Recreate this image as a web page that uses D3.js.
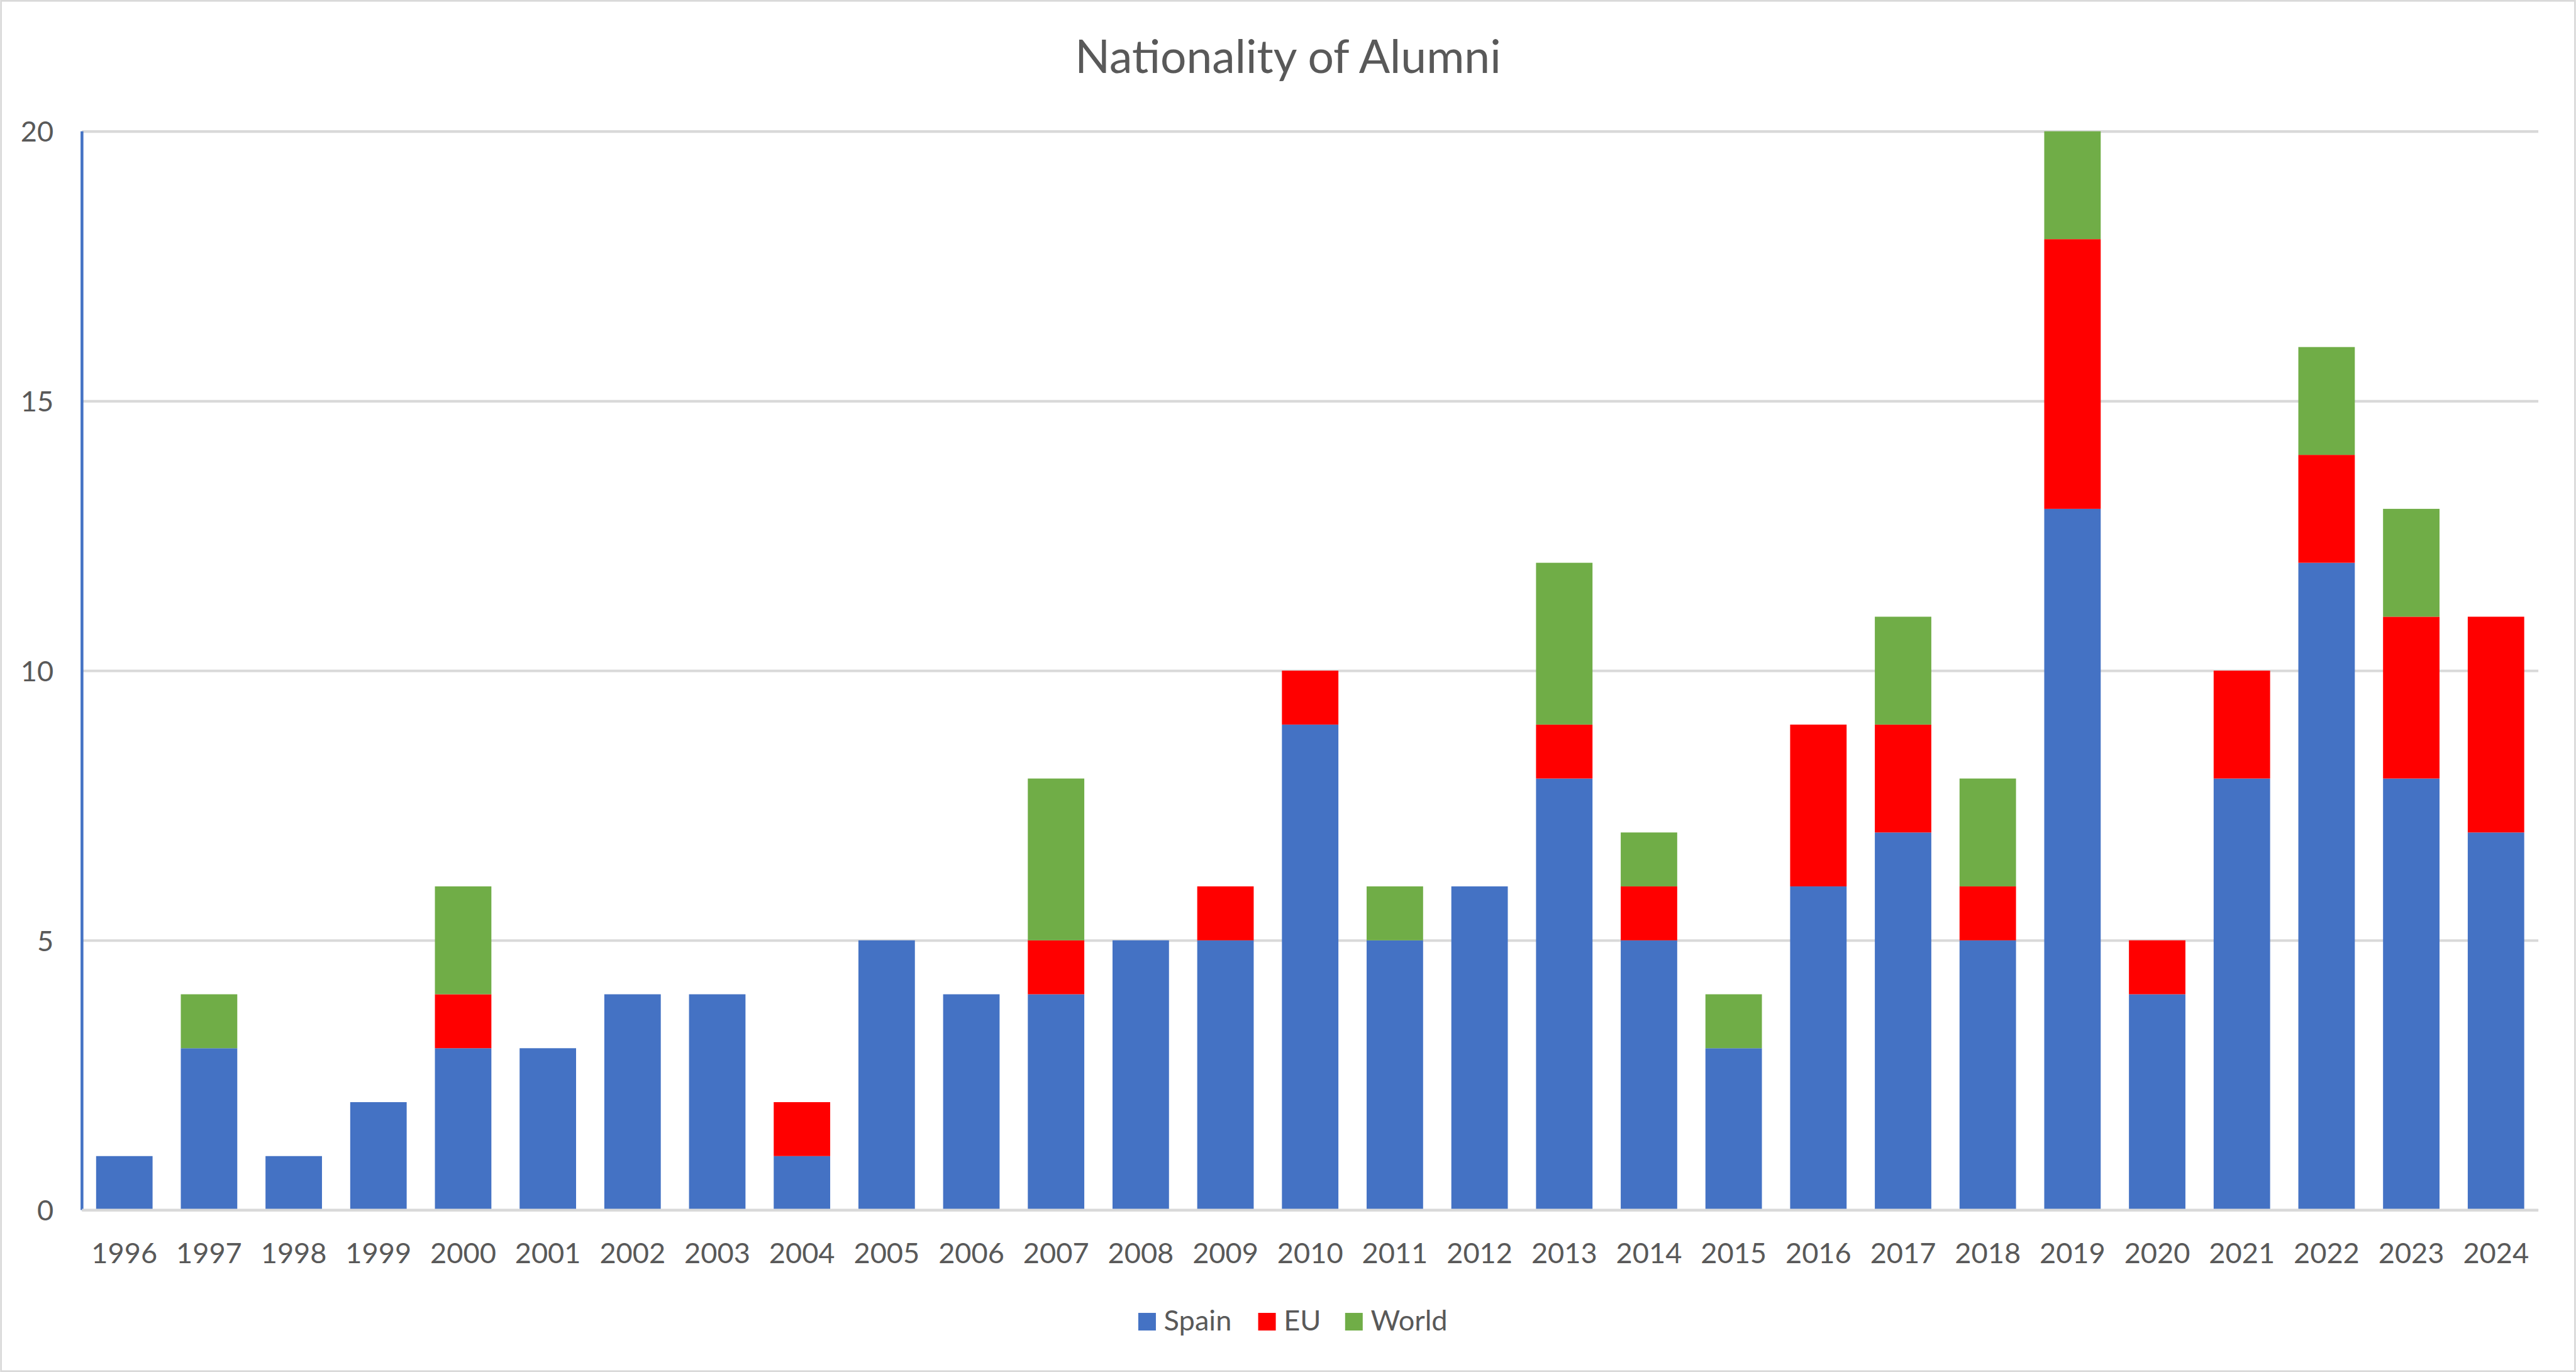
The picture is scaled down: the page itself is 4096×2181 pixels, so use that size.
<!DOCTYPE html>
<html><head><meta charset="utf-8">
<script src="https://cdn.jsdelivr.net/npm/d3@7"></script>
<style>html,body{margin:0;padding:0;background:#fff;overflow:hidden}</style>
</head><body>
<svg id="chart" width="4096" height="2181" viewBox="0 0 4533 2414"></svg>
<script>
const years = ["1996","1997","1998","1999","2000","2001","2002","2003","2004","2005","2006","2007","2008","2009","2010","2011","2012","2013","2014","2015","2016","2017","2018","2019","2020","2021","2022","2023","2024"];
const spain = [1,3,1,2,3,3,4,4,1,5,4,4,5,5,9,5,6,8,5,3,6,7,5,13,4,8,12,8,7];
const eu    = [0,0,0,0,1,0,0,0,1,0,0,1,0,1,1,0,0,1,1,0,3,2,1,5,1,2,2,3,4];
const world = [0,1,0,0,2,0,0,0,0,0,0,3,0,0,0,1,0,3,1,1,0,2,2,2,0,0,2,2,0];
const seriesNames = ["Spain","EU","World"];
const seriesColors = ["#4472C4","#FF0000","#70AD47"];
const yTicks = [0,5,10,15,20];
const title = "Nationality of Alumni";

const FONT = "Lato, 'Open Sans', sans-serif";
const TXT = "#595959";
const svg = d3.select("#chart");
const W = 4533, H = 2414;
svg.append("rect").attr("x",1.5).attr("y",1.5).attr("width",W-3).attr("height",H-3)
   .attr("fill","#fff").attr("stroke","#D9D9D9").attr("stroke-width",3);

const pLeft = 144, pRight = 4467, pTop = 231, pBottom = 2129;
const x = d3.scaleBand().domain(years).range([pLeft,pRight]).paddingInner(1/3).paddingOuter(1/6);
const y = d3.scaleLinear().domain([0,20]).range([pBottom,pTop]);

// gridlines
const yAxis = d3.axisLeft(y).tickValues(yTicks).tickSize(-(pRight-pLeft)).tickPadding(50);
const gy = svg.append("g").attr("transform",`translate(${pLeft},0)`).call(yAxis);
gy.select(".domain").remove();
gy.selectAll(".tick line").attr("stroke","#D9D9D9").attr("stroke-width",4.5);
gy.selectAll(".tick text").attr("fill",TXT).attr("font-family",FONT).attr("font-size",50).attr("dy","0.36em");

const rows = years.map((yr,i)=>({year:yr, Spain:spain[i], EU:eu[i], World:world[i]}));
const stack = d3.stack().keys(seriesNames)(rows);
svg.append("g").selectAll("g").data(stack).join("g")
  .attr("fill",(d,i)=>seriesColors[i])
  .selectAll("rect").data(d=>d.filter(p=>p[1]>p[0])).join("rect")
  .attr("x",d=>x(d.data.year)).attr("width",x.bandwidth())
  .attr("y",d=>y(d[1])).attr("height",d=>y(d[0])-y(d[1]));

// y axis line (blue)
svg.append("line").attr("x1",pLeft).attr("x2",pLeft).attr("y1",y(20)).attr("y2",y(0))
  .attr("stroke","#4472C4").attr("stroke-width",5);

// x axis
const gx = svg.append("g").attr("transform",`translate(0,${pBottom})`).call(d3.axisBottom(x).tickSize(0).tickPadding(58));
gx.select(".domain").attr("stroke","#D9D9D9").attr("stroke-width",4.5).attr("d",`M${pLeft},0H${pRight}`);
gx.selectAll(".tick text").attr("fill",TXT).attr("font-family",FONT).attr("font-size",50);

// title
svg.append("text").attr("x",W/2).attr("y",128).attr("text-anchor","middle")
  .attr("fill",TXT).attr("font-family",FONT).attr("font-size",81).text(title);

// legend
const legX = [2003, 2214, 2367];
const lg = svg.append("g");
seriesNames.forEach((n,i)=>{
  lg.append("rect").attr("x",legX[i]).attr("y",2310).attr("width",31).attr("height",31).attr("fill",seriesColors[i]);
  lg.append("text").attr("x",legX[i]+45).attr("y",2341).attr("fill",TXT).attr("font-family",FONT).attr("font-size",50).text(n);
});
</script>
</body></html>
